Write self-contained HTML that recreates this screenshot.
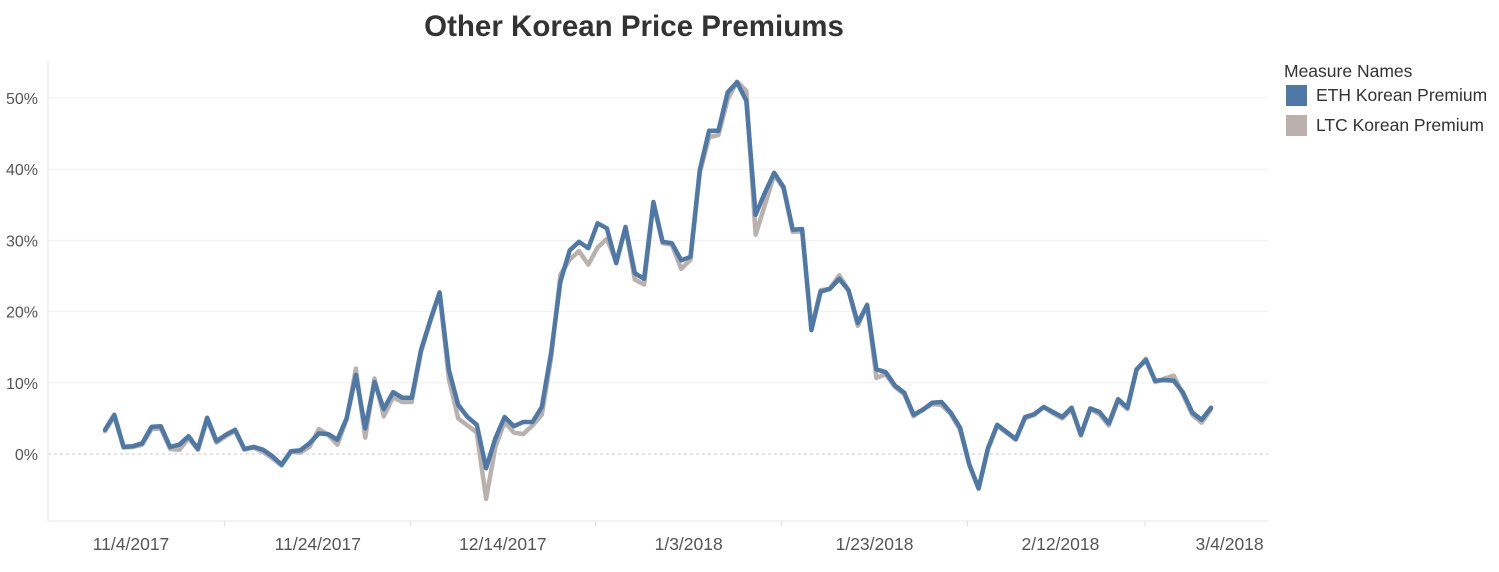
<!DOCTYPE html>
<html><head><meta charset="utf-8"><style>
body{margin:0;background:#fff;font-family:"Liberation Sans",Arial,sans-serif;}
svg text{font-family:"Liberation Sans",Arial,sans-serif;}
</style></head><body>
<svg id="chart" width="1499" height="567">
<text x="634" y="36" text-anchor="middle" font-size="29.5" font-weight="bold" fill="#333">Other Korean Price Premiums</text>
<g id="grid"></g><g id="axes"></g><g id="series"></g>
<g>
<text x="1284" y="77" font-size="17.5" fill="#333">Measure Names</text>
<rect x="1286" y="85" width="21" height="21" fill="#4e79a7"/>
<text x="1316" y="101" font-size="17.5" fill="#333">ETH Korean Premium</text>
<rect x="1286" y="115" width="21" height="21" fill="#bab0ac"/>
<text x="1316" y="131" font-size="17.5" fill="#333">LTC Korean Premium</text>
</g>
</svg>
<script>
const eth=[3.4,5.5,1.0,1.1,1.5,3.8,3.9,1.0,1.3,2.5,0.7,5.1,1.8,2.7,3.4,0.7,1.0,0.6,-0.3,-1.5,0.4,0.5,1.5,2.9,2.8,2.0,5.0,11.1,3.6,10.1,6.3,8.7,7.9,7.9,14.6,18.8,22.7,11.8,6.9,5.2,4.1,-2.0,2.2,5.2,3.9,4.5,4.5,6.6,14.2,24.2,28.6,29.8,28.9,32.4,31.7,26.8,31.9,25.4,24.6,35.4,29.8,29.6,27.2,27.7,39.9,45.4,45.4,50.8,52.2,49.6,33.6,36.7,39.5,37.5,31.5,31.6,17.4,22.8,23.2,24.6,23.0,18.4,20.9,11.9,11.5,9.6,8.6,5.5,6.2,7.2,7.3,5.8,3.7,-1.5,-4.8,0.8,4.1,3.1,2.1,5.2,5.6,6.6,5.9,5.2,6.5,2.7,6.4,5.9,4.3,7.7,6.5,11.9,13.2,10.3,10.4,10.3,8.6,5.8,4.8,6.5];
const ltc=[3.2,5.3,0.9,1.0,1.3,3.5,3.6,0.7,0.6,2.2,0.6,4.8,1.6,2.5,3.2,0.6,0.9,0.3,-0.6,-1.6,0.3,0.2,1.0,3.5,2.7,1.3,4.9,12.0,2.3,10.6,5.3,8.0,7.3,7.3,14.3,18.6,22.6,10.5,5.0,4.0,3.0,-6.3,1.0,4.5,3.0,2.8,4.0,5.5,13.5,25.2,27.3,28.5,26.6,29.0,30.2,27.0,31.7,24.5,23.8,35.2,29.6,29.4,26.0,27.3,39.5,44.5,44.8,49.8,52.3,51.0,30.8,35.0,39.2,37.3,31.2,31.3,17.6,23.0,23.2,25.1,23.0,18.0,21.0,10.7,11.2,9.4,8.4,5.3,6.3,7.0,6.9,5.6,3.4,-1.6,-4.9,0.6,4.0,3.0,2.0,5.0,5.5,6.6,5.7,5.0,6.3,2.6,6.3,5.6,4.0,7.5,6.3,11.8,13.4,10.1,10.6,11.0,8.3,5.5,4.4,6.3];
const yTicks=[0,10,20,30,40,50];
const xLabels=["11/4/2017","11/24/2017","12/14/2017","1/3/2018","1/23/2018","2/12/2018","3/4/2018"];
const xLabelIdx=[2.8,22.9,42.8,62.8,82.8,102.8,121];
const NS="http://www.w3.org/2000/svg";
const X0=105,X1=1211,n=eth.length;
const xs=i=>X0+(X1-X0)*i/(n-1);
const ys=v=>454-v*7.12;
function mk(tag,attrs,parent){const e=document.createElementNS(NS,tag);for(const k in attrs)e.setAttribute(k,attrs[k]);parent.appendChild(e);return e;}
const grid=document.getElementById('grid'),axes=document.getElementById('axes'),ser=document.getElementById('series');
mk('line',{x1:48,y1:60,x2:48,y2:521,stroke:'#e6e6e6'},axes);
mk('line',{x1:48,y1:521,x2:1268,y2:521,stroke:'#e6e6e6'},axes);
yTicks.forEach(t=>{
  const y=ys(t);
  const l=mk('line',{x1:48,x2:1268,y1:y,y2:y,stroke:t===0?'#c8c8c8':'#efefef','stroke-dasharray':t===0?'3,3':'none'},grid);
  
  
  const tx=mk('text',{x:38,y:y+6,'text-anchor':'end','font-size':16,fill:'#555'},axes);
  tx.textContent=t+'%';
  
  
});
xLabels.forEach((lab,k)=>{
  const x=xs(xLabelIdx[k]);
  const tx=mk('text',{x:x,y:550,'text-anchor':'middle','font-size':17.5,fill:'#555'},axes);
  tx.textContent=lab;
  
  
  if(k<xLabels.length-1){
    const mx=(x+xs(xLabelIdx[k+1]))/2;
    const tk=mk('line',{x1:mx,x2:mx,y1:521,y2:526,stroke:'#ddd'},axes);
    
    
  }
});
function draw(vals,color,name){
  const d=vals.map((v,i)=>(i?'L':'M')+xs(i).toFixed(1)+' '+ys(v).toFixed(1)).join(' ');
  const p=mk('path',{d:d,fill:'none',stroke:color,'stroke-width':4.5,'stroke-linejoin':'round','stroke-linecap':'round'},ser);
  
  
}
draw(ltc,'#bab0ac','ltc-premium-line');
draw(eth,'#4e79a7','eth-premium-line');
</script>
</body></html>
